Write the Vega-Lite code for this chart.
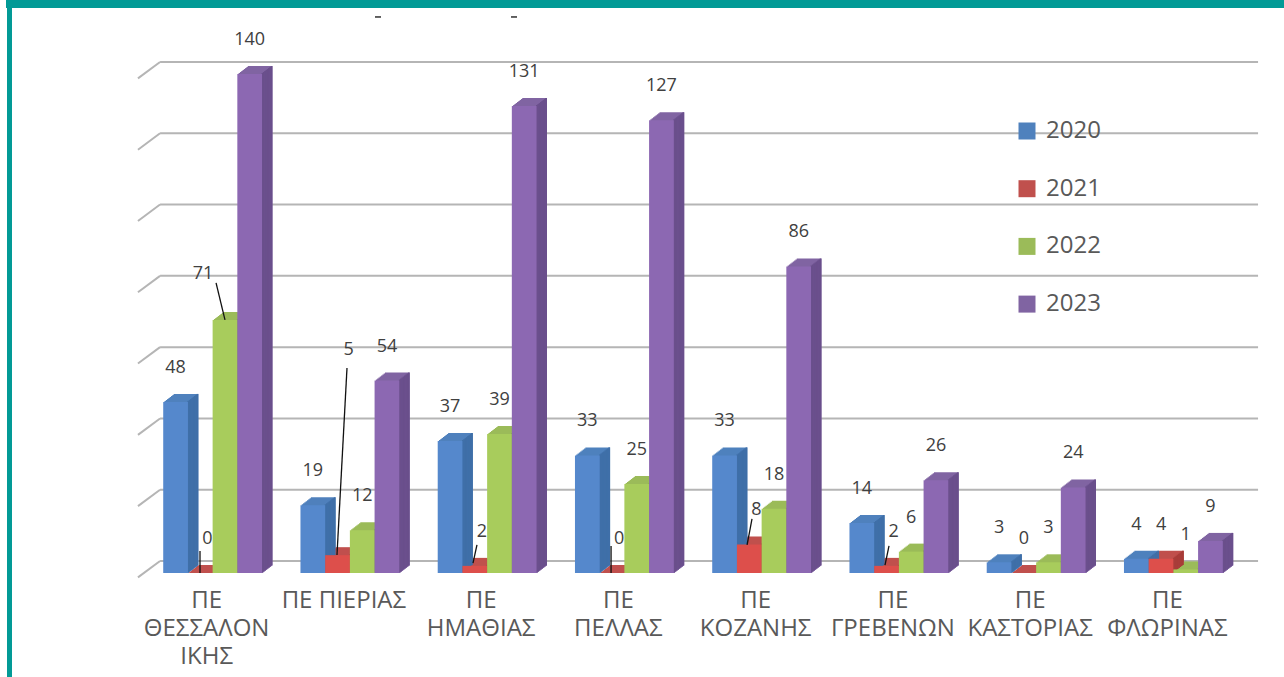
{
"$schema":"https://vega.github.io/schema/vega-lite/v6.json",
"width":1284,"height":677,"autosize":"none","padding":0,"background":"white",
"config":{"view":{"stroke":null},"font":"Open Sans"},
"datasets":{
"bars":[
{"region":"ΠΕ ΘΕΣΣΑΛΟΝΙΚΗΣ","year":"2020","value":48},{"region":"ΠΕ ΘΕΣΣΑΛΟΝΙΚΗΣ","year":"2021","value":0},{"region":"ΠΕ ΘΕΣΣΑΛΟΝΙΚΗΣ","year":"2022","value":71},{"region":"ΠΕ ΘΕΣΣΑΛΟΝΙΚΗΣ","year":"2023","value":140},
{"region":"ΠΕ ΠΙΕΡΙΑΣ","year":"2020","value":19},{"region":"ΠΕ ΠΙΕΡΙΑΣ","year":"2021","value":5},{"region":"ΠΕ ΠΙΕΡΙΑΣ","year":"2022","value":12},{"region":"ΠΕ ΠΙΕΡΙΑΣ","year":"2023","value":54},
{"region":"ΠΕ ΗΜΑΘΙΑΣ","year":"2020","value":37},{"region":"ΠΕ ΗΜΑΘΙΑΣ","year":"2021","value":2},{"region":"ΠΕ ΗΜΑΘΙΑΣ","year":"2022","value":39},{"region":"ΠΕ ΗΜΑΘΙΑΣ","year":"2023","value":131},
{"region":"ΠΕ ΠΕΛΛΑΣ","year":"2020","value":33},{"region":"ΠΕ ΠΕΛΛΑΣ","year":"2021","value":0},{"region":"ΠΕ ΠΕΛΛΑΣ","year":"2022","value":25},{"region":"ΠΕ ΠΕΛΛΑΣ","year":"2023","value":127},
{"region":"ΠΕ ΚΟΖΑΝΗΣ","year":"2020","value":33},{"region":"ΠΕ ΚΟΖΑΝΗΣ","year":"2021","value":8},{"region":"ΠΕ ΚΟΖΑΝΗΣ","year":"2022","value":18},{"region":"ΠΕ ΚΟΖΑΝΗΣ","year":"2023","value":86},
{"region":"ΠΕ ΓΡΕΒΕΝΩΝ","year":"2020","value":14},{"region":"ΠΕ ΓΡΕΒΕΝΩΝ","year":"2021","value":2},{"region":"ΠΕ ΓΡΕΒΕΝΩΝ","year":"2022","value":6},{"region":"ΠΕ ΓΡΕΒΕΝΩΝ","year":"2023","value":26},
{"region":"ΠΕ ΚΑΣΤΟΡΙΑΣ","year":"2020","value":3},{"region":"ΠΕ ΚΑΣΤΟΡΙΑΣ","year":"2021","value":0},{"region":"ΠΕ ΚΑΣΤΟΡΙΑΣ","year":"2022","value":3},{"region":"ΠΕ ΚΑΣΤΟΡΙΑΣ","year":"2023","value":24},
{"region":"ΠΕ ΦΛΩΡΙΝΑΣ","year":"2020","value":4},{"region":"ΠΕ ΦΛΩΡΙΝΑΣ","year":"2021","value":4},{"region":"ΠΕ ΦΛΩΡΙΝΑΣ","year":"2022","value":1},{"region":"ΠΕ ΦΛΩΡΙΝΑΣ","year":"2023","value":9}
],
"grid":[{"v":0,"front":-4.6},{"v":20,"front":15.4},{"v":40,"front":35.4},{"v":60,"front":55.4},{"v":80,"front":75.4},{"v":100,"front":95.4},{"v":120,"front":115.4},{"v":140,"front":135.4}],
"leaders":[
{"a":0.525,"a2":0.590,"v":81.4,"v2":71},
{"a":1.479,"a2":1.406,"v":57.5,"v2":5.05},
{"a":0.408,"a2":0.408,"v":6.2,"v2":0},
{"a":2.426,"a2":2.397,"v":7.9,"v2":2.8},
{"a":3.403,"a2":3.403,"v":7.6,"v2":0},
{"a":4.430,"a2":4.394,"v":15.2,"v2":7.9},
{"a":5.428,"a2":5.399,"v":7.6,"v2":2.2},
{"a":1.683,"a2":1.727,"v":156,"v2":156},
{"a":2.674,"a2":2.718,"v":156,"v2":156}
]},
"layer":[
{"data":{"values":[{}]},"mark":{"type":"rule","color":"#029a96","strokeWidth":8},
 "encoding":{"x":{"datum":0,"type":"quantitative","scale":{"domain":[0,1],"range":[6,1284]},"axis":null},"x2":{"datum":1},"y":{"datum":1,"type":"quantitative","scale":{"domain":[0,1],"range":[677,4]},"axis":null}}},
{"data":{"values":[{}]},"mark":{"type":"rule","color":"#029a96","strokeWidth":5},
 "encoding":{"x":{"datum":0,"type":"quantitative","scale":{"domain":[0,1],"range":[9.5,1284]},"axis":null},"y":{"datum":0,"type":"quantitative","scale":{"domain":[0,1],"range":[677,8]},"axis":null},"y2":{"datum":1}}},
{"data":{"name":"grid"},"mark":{"type":"rule","color":"#b5b5b5","strokeWidth":2},
 "encoding":{"x":{"datum":0.117,"type":"quantitative","scale":{"domain":[0,8],"range":[144,1242]},"axis":null},"x2":{"datum":8.117},"y":{"field":"v","type":"quantitative","scale":{"domain":[0,140],"range":[561,62]},"axis":null}}},
{"data":{"name":"grid"},"mark":{"type":"rule","color":"#b5b5b5","strokeWidth":2},
 "encoding":{"x":{"datum":-0.044,"type":"quantitative","scale":{"domain":[0,8],"range":[144,1242]},"axis":null},"x2":{"datum":0.117},"y":{"field":"front","type":"quantitative","scale":{"domain":[0,140],"range":[561,62]},"axis":null},"y2":{"field":"v"}}},
{"data":{"name":"bars"},
 "encoding":{
  "x":{"field":"region","type":"nominal","sort":null,"scale":{"domain":["ΠΕ ΘΕΣΣΑΛΟΝΙΚΗΣ","ΠΕ ΠΙΕΡΙΑΣ","ΠΕ ΗΜΑΘΙΑΣ","ΠΕ ΠΕΛΛΑΣ","ΠΕ ΚΟΖΑΝΗΣ","ΠΕ ΓΡΕΒΕΝΩΝ","ΠΕ ΚΑΣΤΟΡΙΑΣ","ΠΕ ΦΛΩΡΙΝΑΣ"],"range":[144,1242],"paddingInner":0.28,"paddingOuter":0.14},
   "axis":{"title":null,"orient":"bottom","offset":-89,"domain":false,"ticks":false,"grid":false,"labelAngle":0,"labelPadding":0,"labelOffset":-6,"labelFontSize":24,"labelColor":"#595959","labelLimit":0,"labelOverlap":false,"labelLineHeight":28,"labelBaseline":"top",
    "labelExpr":"datum.label=='ΠΕ ΘΕΣΣΑΛΟΝΙΚΗΣ'?['ΠΕ','ΘΕΣΣΑΛΟΝ','ΙΚΗΣ']:datum.label=='ΠΕ ΠΙΕΡΙΑΣ'?'ΠΕ ΠΙΕΡΙΑΣ':split(datum.label,' ')"}},
  "xOffset":{"field":"year","type":"nominal","sort":null,"scale":{"domain":["2020","2021","2022","2023"],"range":[0,98.82]}},
  "y":{"field":"value","type":"quantitative","stack":null,"scale":{"domain":[0,140],"range":[573,74]},"axis":null}},
 "layer":[
  {"encoding":{"y2":{"datum":0},"color":{"field":"year","type":"nominal","scale":{"domain":["2020","2021","2022","2023"],"range":["#4f81bd","#c0504d","#9bbb59","#8064a2"]},
    "legend":{"orient":"none","legendX":1015,"legendY":119,"title":null,"symbolType":"square","symbolSize":289,"symbolStrokeWidth":0,"labelFontSize":24,"labelColor":"#595959","labelOffset":7,"rowPadding":33.7,"symbolOpacity":1}}},
   "layer":[
    {"mark":{"type":"bar","yOffset":-8,"y2Offset":-7},"encoding":{"xOffset":{"field":"year","type":"nominal","sort":null,"scale":{"domain":["2020","2021","2022","2023"],"range":[10.4,109.22]}}}},
    {"mark":{"type":"bar","yOffset":-7,"y2Offset":-6},"encoding":{"xOffset":{"field":"year","type":"nominal","sort":null,"scale":{"domain":["2020","2021","2022","2023"],"range":[9.1,107.92]}}}},
    {"mark":{"type":"bar","yOffset":-6,"y2Offset":-5},"encoding":{"xOffset":{"field":"year","type":"nominal","sort":null,"scale":{"domain":["2020","2021","2022","2023"],"range":[7.8,106.62]}}}},
    {"mark":{"type":"bar","yOffset":-5,"y2Offset":-4},"encoding":{"xOffset":{"field":"year","type":"nominal","sort":null,"scale":{"domain":["2020","2021","2022","2023"],"range":[6.5,105.32]}}}},
    {"mark":{"type":"bar","yOffset":-4,"y2Offset":-3},"encoding":{"xOffset":{"field":"year","type":"nominal","sort":null,"scale":{"domain":["2020","2021","2022","2023"],"range":[5.2,104.02]}}}},
    {"mark":{"type":"bar","yOffset":-3,"y2Offset":-2},"encoding":{"xOffset":{"field":"year","type":"nominal","sort":null,"scale":{"domain":["2020","2021","2022","2023"],"range":[3.9,102.72]}}}},
    {"mark":{"type":"bar","yOffset":-2,"y2Offset":-1},"encoding":{"xOffset":{"field":"year","type":"nominal","sort":null,"scale":{"domain":["2020","2021","2022","2023"],"range":[2.6,101.42]}}}},
    {"mark":{"type":"bar","yOffset":-1,"y2Offset":0},"encoding":{"xOffset":{"field":"year","type":"nominal","sort":null,"scale":{"domain":["2020","2021","2022","2023"],"range":[1.3,100.12]}}}}
   ],
   "resolve":{"scale":{"xOffset":"independent"}}},
  {"encoding":{"y2":{"datum":0},"color":{"field":"year","type":"nominal","scale":{"domain":["2020","2021","2022","2023"],"range":["#3f6fa8","#a83c39","#86a44a","#6a4f8c"]},"legend":null}},
   "layer":[
    {"mark":{"type":"bar","width":1.8,"yOffset":-8,"y2Offset":-8},"encoding":{"xOffset":{"field":"year","type":"nominal","sort":null,"scale":{"domain":["2020","2021","2022","2023"],"range":[21.9,120.72]}}}},
    {"mark":{"type":"bar","width":1.8,"yOffset":-7,"y2Offset":-7},"encoding":{"xOffset":{"field":"year","type":"nominal","sort":null,"scale":{"domain":["2020","2021","2022","2023"],"range":[20.6,119.42]}}}},
    {"mark":{"type":"bar","width":1.8,"yOffset":-6,"y2Offset":-6},"encoding":{"xOffset":{"field":"year","type":"nominal","sort":null,"scale":{"domain":["2020","2021","2022","2023"],"range":[19.3,118.12]}}}},
    {"mark":{"type":"bar","width":1.8,"yOffset":-5,"y2Offset":-5},"encoding":{"xOffset":{"field":"year","type":"nominal","sort":null,"scale":{"domain":["2020","2021","2022","2023"],"range":[18.0,116.82]}}}},
    {"mark":{"type":"bar","width":1.8,"yOffset":-4,"y2Offset":-4},"encoding":{"xOffset":{"field":"year","type":"nominal","sort":null,"scale":{"domain":["2020","2021","2022","2023"],"range":[16.7,115.52]}}}},
    {"mark":{"type":"bar","width":1.8,"yOffset":-3,"y2Offset":-3},"encoding":{"xOffset":{"field":"year","type":"nominal","sort":null,"scale":{"domain":["2020","2021","2022","2023"],"range":[15.4,114.22]}}}},
    {"mark":{"type":"bar","width":1.8,"yOffset":-2,"y2Offset":-2},"encoding":{"xOffset":{"field":"year","type":"nominal","sort":null,"scale":{"domain":["2020","2021","2022","2023"],"range":[14.1,112.92]}}}},
    {"mark":{"type":"bar","width":1.8,"yOffset":-1,"y2Offset":-1},"encoding":{"xOffset":{"field":"year","type":"nominal","sort":null,"scale":{"domain":["2020","2021","2022","2023"],"range":[12.8,111.62]}}}}
   ],
   "resolve":{"scale":{"xOffset":"independent"}}},
  {"mark":{"type":"bar"},"encoding":{"color":{"field":"year","type":"nominal","scale":{"domain":["2020","2021","2022","2023"],"range":["#5588cc","#dd4f4b","#a8cc5c","#8c68b2"]},"legend":null}}},
  {"transform":[{"filter":"!(datum.value==71||(datum.year=='2021'&&datum.region!='ΠΕ ΚΑΣΤΟΡΙΑΣ'&&datum.region!='ΠΕ ΦΛΩΡΙΝΑΣ'))"}],
   "mark":{"type":"text","dy":-34,"fontSize":18,"color":"#404040"},"encoding":{"text":{"field":"value","type":"quantitative"}}},
  {"transform":[{"filter":"datum.year=='2021'&&datum.value!=5&&datum.region!='ΠΕ ΚΑΣΤΟΡΙΑΣ'&&datum.region!='ΠΕ ΦΛΩΡΙΝΑΣ'"}],
   "mark":{"type":"text","dy":-34,"dx":7,"fontSize":18,"color":"#404040"},"encoding":{"text":{"field":"value","type":"quantitative"}}},
  {"transform":[{"filter":"datum.value==5"}],
   "mark":{"type":"text","dy":-205,"dx":11,"fontSize":18,"color":"#404040"},"encoding":{"text":{"field":"value","type":"quantitative"}}},
  {"transform":[{"filter":"datum.value==71"}],
   "mark":{"type":"text","dy":-46,"dx":-22,"fontSize":18,"color":"#404040"},"encoding":{"text":{"field":"value","type":"quantitative"}}}
 ],
 "resolve":{"scale":{"color":"independent","xOffset":"independent"}}},
{"data":{"name":"leaders"},"mark":{"type":"rule","color":"#111111","strokeWidth":1.3},
 "encoding":{"x":{"field":"a","type":"quantitative","scale":{"domain":[0,8],"range":[144,1242]},"axis":null},"x2":{"field":"a2"},"y":{"field":"v","type":"quantitative","scale":{"domain":[0,140],"range":[573,74]},"axis":null},"y2":{"field":"v2"}}}
],
"resolve":{"scale":{"x":"independent","y":"independent","color":"independent"}}
}
